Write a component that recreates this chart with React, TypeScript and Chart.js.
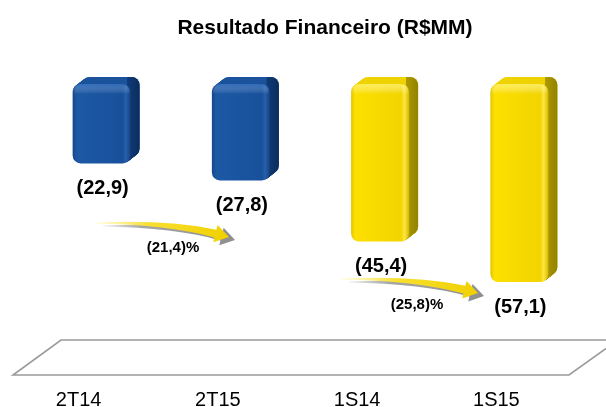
import React, { useEffect, useRef } from 'react';
import { Chart, registerables } from 'chart.js';

Chart.register(...registerables);

// ---- data ----
const categories = ['2T14', '2T15', '1S14', '1S15'];
const values = [-22.9, -27.8, -45.4, -57.1];
const barColorKeys = ['blue', 'blue', 'yellow', 'yellow'];
const changeLabels = ['(21,4)%', '(25,8)%'];
const titleText = 'Resultado Financeiro (R$MM)';
const yMin = -83.6;
const yMax = 0;

const FONT = '"Liberation Sans", Arial, Helvetica, sans-serif';
const BAR_PCT = 0.4165;

type Pal = { stops: [number, string][]; side: string; sideDark: string; top: string; base: string };
const palettes: Record<string, Pal> = {
  blue: {
    stops: [[0, '#164688'], [0.07, '#1c58a4'], [0.5, '#1a54a0'], [0.86, '#18509a'], [0.92, '#2660ac'], [1, '#14407e']],
    side: '#103b76',
    sideDark: '#0b2d5e',
    top: '#1b529c',
    base: '#1a54a0',
  },
  yellow: {
    stops: [[0, '#e2c400'], [0.07, '#fde000'], [0.5, '#f7d900'], [0.86, '#f2d400'], [0.92, '#fde640'], [1, '#d6b900']],
    side: '#ad9a00',
    sideDark: '#928200',
    top: '#efd300',
    base: '#f7d900',
  },
};

function fmt(v: number) {
  return '(' + Math.abs(v).toFixed(1).replace('.', ',') + ')';
}

function drawExtrusion(ctx: CanvasRenderingContext2D, x0: number, y0: number, w: number, h: number, r: number, dx: number, dy: number, pal: Pal) {
  const steps = 12;
  ctx.save();
  ctx.fillStyle = pal.top;
  for (let k = 1; k <= steps; k++) {
    const t = k / steps;
    ctx.beginPath();
    (ctx as any).roundRect(x0 + dx * t, y0 + dy * t, w, h, r);
    ctx.fill();
  }
  ctx.restore();
  ctx.save();
  ctx.beginPath();
  ctx.rect(x0 + w - 3, y0 + dy - 3, dx + 10, h + 20);
  ctx.clip();
  const g = ctx.createLinearGradient(x0 + w - 3, 0, x0 + w + dx, 0);
  g.addColorStop(0, pal.side);
  g.addColorStop(1, pal.sideDark);
  ctx.fillStyle = g;
  for (let k = 1; k <= steps; k++) {
    const t = k / steps;
    ctx.beginPath();
    (ctx as any).roundRect(x0 + dx * t, y0 + dy * t, w, h, r);
    ctx.fill();
  }
  ctx.restore();
}

function drawArrow(ctx: CanvasRenderingContext2D, tx: number, ty: number, px: number, py: number, fill: string | CanvasGradient) {
  const cx = tx + (px - tx) * 0.55;
  const cy = ty - 1;
  let ux = px - cx;
  let uy = py - cy;
  const len = Math.hypot(ux, uy);
  ux /= len;
  uy /= len;
  const nx = -uy;
  const ny = ux;
  const headLen = 14;
  const headHalf = 9;
  const shaftHalf = 4;
  const hx = px - ux * headLen;
  const hy = py - uy * headLen;
  ctx.beginPath();
  ctx.moveTo(tx, ty - 0.6);
  ctx.quadraticCurveTo(cx - nx * shaftHalf * 0.7, cy - ny * shaftHalf * 0.7, hx - nx * shaftHalf, hy - ny * shaftHalf);
  ctx.lineTo(hx - nx * headHalf, hy - ny * headHalf);
  ctx.lineTo(px, py);
  ctx.lineTo(hx + nx * headHalf, hy + ny * headHalf);
  ctx.lineTo(hx + nx * shaftHalf, hy + ny * shaftHalf);
  ctx.quadraticCurveTo(cx + nx * shaftHalf * 0.7, cy + ny * shaftHalf * 0.7, tx, ty + 0.6);
  ctx.closePath();
  ctx.fillStyle = fill;
  ctx.fill();
}

const decorPlugin = {
  id: 'decor',
  beforeDatasetsDraw(chart: any) {
    const ctx: CanvasRenderingContext2D = chart.ctx;
    const ca = chart.chartArea;
    // floor
    const fTop = ca.bottom - 34;
    const fBot = ca.bottom + 1;
    ctx.save();
    ctx.beginPath();
    ctx.moveTo(61, fTop);
    ctx.lineTo(chart.width + 12, fTop);
    ctx.lineTo(569, fBot);
    ctx.lineTo(13, fBot);
    ctx.closePath();
    ctx.fillStyle = '#ffffff';
    ctx.fill();
    ctx.strokeStyle = '#9a9a9a';
    ctx.lineWidth = 1.6;
    ctx.stroke();
    ctx.restore();
    // extrusions
    const meta = chart.getDatasetMeta(0);
    meta.data.forEach((el: any, i: number) => {
      const top = Math.min(el.y, el.base);
      const bottom = Math.max(el.y, el.base);
      const w = el.width;
      drawExtrusion(ctx, el.x - w / 2, top, w, bottom - top, 8, 9, -7, palettes[barColorKeys[i]]);
    });
  },
  afterDatasetsDraw(chart: any) {
    const ctx: CanvasRenderingContext2D = chart.ctx;
    const meta = chart.getDatasetMeta(0);
    // top bevel highlight
    meta.data.forEach((el: any, i: number) => {
      const top = Math.min(el.y, el.base);
      const w = el.width;
      const g = ctx.createLinearGradient(0, top, 0, top + 10);
      g.addColorStop(0, barColorKeys[i] === 'blue' ? 'rgba(70,130,210,0.5)' : 'rgba(255,245,120,0.7)');
      g.addColorStop(1, 'rgba(255,255,255,0)');
      ctx.save();
      ctx.beginPath();
      (ctx as any).roundRect(el.x - w / 2 + 1, top, w - 2, 10, [8, 8, 0, 0]);
      ctx.fillStyle = g;
      ctx.fill();
      ctx.restore();
    });
    // value labels
    ctx.save();
    ctx.fillStyle = '#000';
    ctx.font = 'bold 20px ' + FONT;
    ctx.textAlign = 'center';
    ctx.textBaseline = 'middle';
    meta.data.forEach((el: any, i: number) => {
      const bottom = Math.max(el.y, el.base);
      ctx.fillText(fmt(values[i]), el.x + 1, bottom + 25);
    });
    ctx.restore();
    // arrows
    const arrows = [
      { t: [95, 223], p: [229, 237], lbl: [173, 248] },
      { t: [341, 279], p: [478, 293], lbl: [417, 305] },
    ];
    arrows.forEach((a, k) => {
      const sg = ctx.createLinearGradient(a.t[0], 0, a.p[0], 0);
      sg.addColorStop(0, 'rgba(150,150,150,0)');
      sg.addColorStop(0.35, 'rgba(150,150,150,0.85)');
      sg.addColorStop(1, '#8f8f8f');
      drawArrow(ctx, a.t[0] + 8, a.t[1] + 3, a.p[0] + 6, a.p[1] + 3, sg);
      const yg = ctx.createLinearGradient(a.t[0], 0, a.p[0], 0);
      yg.addColorStop(0, 'rgba(255,250,190,0.6)');
      yg.addColorStop(0.4, '#f8e030');
      yg.addColorStop(1, '#f0d000');
      drawArrow(ctx, a.t[0], a.t[1], a.p[0], a.p[1], yg);
      ctx.save();
      ctx.fillStyle = '#000';
      ctx.font = 'bold 15px ' + FONT;
      ctx.textAlign = 'center';
      ctx.textBaseline = 'middle';
      ctx.fillText(changeLabels[k], a.lbl[0], a.lbl[1]);
      ctx.restore();
    });
    // title
    ctx.save();
    ctx.fillStyle = '#000';
    ctx.font = 'bold 21px ' + FONT;
    ctx.textAlign = 'center';
    ctx.textBaseline = 'middle';
    ctx.fillText(titleText, 325, 28);
    ctx.restore();
  },
};

export default function App() {
  const ref = useRef<HTMLCanvasElement | null>(null);
  useEffect(() => {
    document.body.style.margin = '0';
    const canvas = ref.current;
    if (!canvas) return;
    const chart = new Chart(canvas, {
      type: 'bar',
      data: {
        labels: categories,
        datasets: [
          {
            data: values,
            backgroundColor: (c: any) => {
              const pal = palettes[barColorKeys[c.dataIndex] || 'blue'];
              const chartI = c.chart;
              const ca = chartI.chartArea;
              if (!ca || c.dataIndex === undefined || !chartI.scales.x) return pal.base;
              const cx = chartI.scales.x.getPixelForValue(c.dataIndex);
              const w = ((ca.right - ca.left) / categories.length) * BAR_PCT;
              const g = chartI.ctx.createLinearGradient(cx - w / 2, 0, cx + w / 2, 0);
              pal.stops.forEach(([o, col]) => g.addColorStop(o, col));
              return g;
            },
            borderWidth: 0,
            borderRadius: 8,
            borderSkipped: false,
            barPercentage: BAR_PCT,
            categoryPercentage: 1,
          },
        ],
      },
      options: {
        animation: false,
        responsive: false,
        layout: { padding: { left: 32, right: 17, top: 84, bottom: -19 } },
        plugins: {
          legend: { display: false },
          title: { display: false },
          tooltip: { enabled: false },
        },
        scales: {
          x: {
            grid: { display: false, drawTicks: false },
            border: { display: false },
            ticks: {
              color: '#000',
              font: { family: FONT, size: 20 },
              padding: 14,
              labelOffset: -23,
              maxRotation: 0,
            },
          },
          y: {
            display: false,
            min: yMin,
            max: yMax,
          },
        },
      },
      plugins: [decorPlugin],
    } as any);
    return () => chart.destroy();
  }, []);
  return (
    <div style={{ width: 606, height: 407 }}>
      <canvas ref={ref} width={606} height={407} style={{ display: 'block' }} />
    </div>
  );
}
